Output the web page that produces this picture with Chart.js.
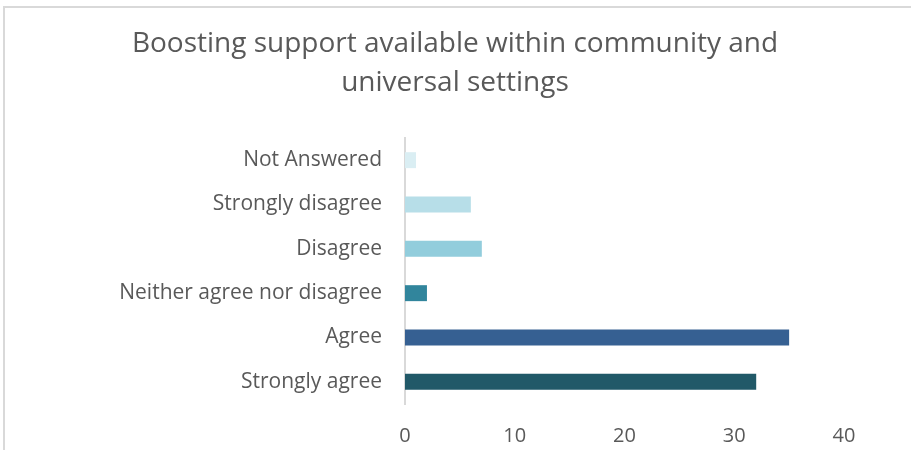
<!DOCTYPE html>
<html>
<head>
<meta charset="utf-8">
<script src="https://cdn.jsdelivr.net/npm/chart.js@4"></script>
<style>
  html, body { margin: 0; padding: 0; background: #fff; overflow: hidden; }
  #frame { position: absolute; left: 3px; top: 6px; width: 1000px; height: 1000px; border: 2px solid #d9d9d9; box-sizing: border-box; }
  #wrap { position: absolute; left: 0; top: 0; width: 911px; height: 450px; }
</style>
</head>
<body>
<div id="frame"></div>
<div id="wrap"><canvas id="c" width="911" height="450"></canvas></div>
<script>
const titleLines = ['Boosting support available within community and', 'universal settings'];
const categories = ['Not Answered', 'Strongly disagree', 'Disagree', 'Neither agree nor disagree', 'Agree', 'Strongly agree'];
const counts = [1, 6, 7, 2, 35, 32];
const barColors = ['#DAEEF3', '#B7DEE8', '#92CDDC', '#31859C', '#366092', '#215968'];
const xTicks = [0, 10, 20, 30, 40];

const FONT = '"Open Sans", sans-serif';
const TEXT = '#595959';

new Chart(document.getElementById('c'), {
  type: 'bar',
  data: {
    labels: categories,
    datasets: [{
      data: counts,
      backgroundColor: barColors,
      borderWidth: 0,
      barPercentage: 0.36,
      categoryPercentage: 1
    }]
  },
  options: {
    indexAxis: 'y',
    responsive: false,
    animation: false,
    layout: { padding: { left: 66, right: 67, top: 0, bottom: 0 } },
    plugins: {
      legend: { display: false },
      tooltip: { enabled: false },
      title: {
        display: true,
        text: titleLines,
        color: TEXT,
        font: { family: FONT, size: 28, weight: 'normal', lineHeight: 39 / 28 },
        padding: { top: 25, bottom: 35 }
      }
    },
    scales: {
      x: {
        min: 0, max: 40,
        afterBuildTicks: (s) => { s.ticks = xTicks.map(v => ({ value: v })); },
        afterFit: (s) => { s.height = 46; },
        grid: { display: false, drawTicks: false },
        border: { display: false },
        ticks: { color: TEXT, font: { family: FONT, size: 20 }, padding: 20 }
      },
      y: {
        afterFit: (s) => { s.width = 339; },
        grid: { display: false, drawTicks: false },
        border: { display: true, color: '#d9d9d9', width: 2 },
        ticks: { color: TEXT, font: { family: FONT, size: 21 }, padding: 23 }
      }
    }
  }
});
</script>
</body>
</html>
